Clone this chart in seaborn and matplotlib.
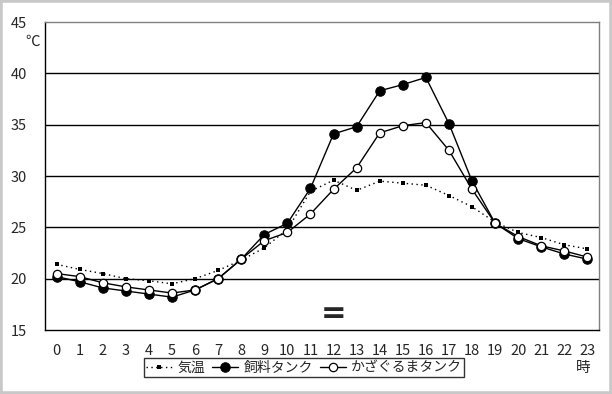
import numpy as np
import pandas as pd
import matplotlib
matplotlib.use("Agg")
import matplotlib.pyplot as plt
from matplotlib.patches import Rectangle
from matplotlib.ticker import FixedLocator
import seaborn as sns

hours = list(range(24))
air_temp = [21.4, 20.9, 20.5, 20.0, 19.8, 19.5, 20.0, 20.8, 21.8, 23.0, 24.8, 28.5,
            29.6, 28.6, 29.5, 29.3, 29.1, 28.1, 27.0, 25.5, 24.5, 24.0, 23.3, 22.9]
feed_tank = [20.2, 19.7, 19.1, 18.8, 18.5, 18.2, 18.9, 20.0, 21.9, 24.3, 25.4, 28.8,
             34.1, 34.8, 38.3, 38.9, 39.6, 35.1, 29.5, 25.4, 23.9, 23.1, 22.4, 21.9]
pinwheel_tank = [20.5, 20.2, 19.6, 19.2, 18.9, 18.6, 18.9, 20.0, 21.9, 23.7, 24.5, 26.3,
                 28.7, 30.8, 34.2, 34.9, 35.2, 32.5, 28.7, 25.4, 24.1, 23.2, 22.7, 22.1]
series_names = ["気温", "飼料タンク", "かざぐるまタンク"]
y_ticks = [15, 20, 25, 30, 35, 40, 45]

df = pd.DataFrame({"hour": hours, series_names[0]: air_temp,
                   series_names[1]: feed_tank, series_names[2]: pinwheel_tank})

sns.set_style("white")
plt.rcParams['font.family'] = ['Noto Sans CJK JP', 'DejaVu Sans']

fig = plt.figure(figsize=(6.12, 3.94), dpi=100)
fig.patches.append(Rectangle((0, 0), 1, 1, transform=fig.transFigure, fill=False,
                             edgecolor="#c8c8c8", linewidth=4))
ax = fig.add_axes([45 / 612, 64 / 394, 554 / 612, 308 / 394])

# gridlines
for v in y_ticks[1:-1]:
    ax.axhline(v, color="black", lw=1, zorder=1)

sns.lineplot(data=df, x="hour", y=series_names[0], ax=ax, color="black", lw=1,
             linestyle=(0, (1, 2.5)), marker="s", markersize=2.6, markeredgewidth=0,
             label=series_names[0], zorder=3)
sns.lineplot(data=df, x="hour", y=series_names[1], ax=ax, color="black", lw=1,
             marker="o", markersize=6.8, markerfacecolor="black", markeredgecolor="black",
             label=series_names[1], zorder=4)
sns.lineplot(data=df, x="hour", y=series_names[2], ax=ax, color="black", lw=1,
             marker="o", markersize=6, markerfacecolor="white", markeredgecolor="black",
             markeredgewidth=0.9, label=series_names[2], zorder=5)

ax.set_xlim(-0.5, 23.5)
ax.set_ylim(15, 45)
ax.set_xticks(hours)
ax.set_xticklabels([str(h) for h in hours], fontsize=10.5)
ax.xaxis.set_minor_locator(FixedLocator(np.arange(-0.5, 24, 1)))
ax.tick_params(axis="x", which="major", length=0, pad=10)
ax.tick_params(axis="x", which="minor", length=4, direction="in", width=0.8, color="black")
ax.set_yticks(y_ticks)
ax.set_yticklabels([str(v) for v in y_ticks], fontsize=10.5)
ax.tick_params(axis="y", length=0, pad=13)
ax.set_xlabel("")
ax.set_ylabel("")

for side in ["left", "bottom"]:
    ax.spines[side].set_color("black")
    ax.spines[side].set_linewidth(1)
for side in ["top", "right"]:
    ax.spines[side].set_color("#808080")
    ax.spines[side].set_linewidth(1)

# axis unit labels
fig.text(33 / 612, 1 - 42 / 394, "℃", fontsize=10.5, ha="center", va="center")
fig.text(583 / 612, 1 - 368 / 394, "時", fontsize=10.5, ha="center", va="center")

# axis break mark
ax.text(12, 16.6, "=", fontsize=22, fontweight="bold", ha="center", va="center",
        family="DejaVu Sans")

leg = ax.legend(loc="center", bbox_to_anchor=(304 / 612, 1 - 367.5 / 394),
                bbox_transform=fig.transFigure, ncol=3, frameon=True, fancybox=False,
                fontsize=10, handlelength=1.9, handletextpad=0.35, columnspacing=0.5,
                borderpad=0.15, borderaxespad=0)
leg.get_frame().set_edgecolor("black")
leg.get_frame().set_linewidth(1)

fig.savefig("out.png", dpi=100, facecolor="white")
